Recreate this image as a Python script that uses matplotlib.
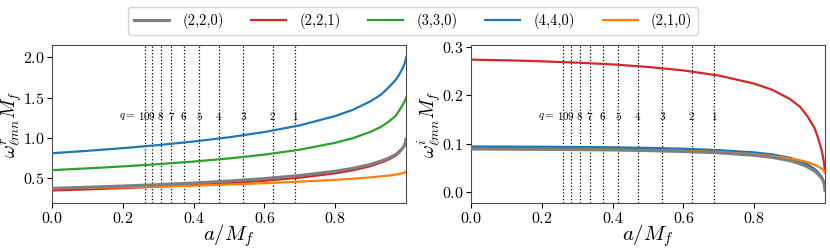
import numpy as np
import matplotlib
matplotlib.use("Agg")
from matplotlib import pyplot as plt
from matplotlib import transforms

plt.rcParams['font.family'] = 'serif'
plt.rcParams['font.serif'] = ['cmr10']
plt.rcParams['mathtext.fontset'] = 'cm'
plt.rcParams['axes.formatter.use_mathtext'] = True

#Spins (a/M_f)
spin = [0.0, 0.1, 0.2, 0.3, 0.4, 0.5, 0.6, 0.7, 0.8, 0.85, 0.9, 0.93, 0.95, 0.97,
        0.98, 0.99, 0.995, 0.998, 0.999, 0.9995, 0.9999]

#Real part
wr_220 = [0.3737, 0.3870, 0.4021, 0.4195, 0.4398, 0.4641, 0.4940, 0.5326, 0.5860, 0.6215, 0.6716,
          0.7130, 0.7462, 0.7900, 0.8254, 0.8709, 0.9050, 0.9370, 0.9530, 0.9660, 0.9850]
wr_221 = [0.3467, 0.3606, 0.3760, 0.3935, 0.4137, 0.4377, 0.4673, 0.5057, 0.5597, 0.5970, 0.6486,
          0.6950, 0.7289, 0.7760, 0.8146, 0.8635, 0.8990, 0.9320, 0.9490, 0.9630, 0.9840]
wr_330 = [0.5994, 0.6208, 0.6451, 0.6730, 0.7056, 0.7442, 0.7916, 0.8530, 0.9381, 0.9955, 1.0747,
          1.1380, 1.1981, 1.2690, 1.3336, 1.4052, 1.4450, 1.4720, 1.4830, 1.4900, 1.4970]
wr_440 = [0.8092, 0.8386, 0.8718, 0.9098, 0.9541, 1.0068, 1.0713, 1.1547, 1.2698, 1.3474, 1.4542,
          1.5380, 1.6217, 1.7150, 1.7780, 1.8600, 1.9100, 1.9500, 1.9700, 1.9800, 1.9950]
wr_210 = [0.3737, 0.3801, 0.3870, 0.3951, 0.4070, 0.4210, 0.4370, 0.4560, 0.4790, 0.4930, 0.5100,
          0.5220, 0.5310, 0.5430, 0.5510, 0.5610, 0.5680, 0.5740, 0.5770, 0.5780, 0.5790]

#Imaginary part
wi_220 = [0.0890, 0.0887, 0.0883, 0.0877, 0.0869, 0.0856, 0.0838, 0.0811, 0.0759, 0.0717, 0.0649,
          0.0584, 0.0521, 0.0435, 0.0370, 0.0293, 0.0222, 0.0148, 0.0110, 0.0080, 0.0030]
wi_221 = [0.2739, 0.2725, 0.2705, 0.2677, 0.2640, 0.2588, 0.2516, 0.2410, 0.2243, 0.2118, 0.1929,
          0.1760, 0.1572, 0.1330, 0.1126, 0.0878, 0.0700, 0.0550, 0.0480, 0.0440, 0.0400]
wi_330 = [0.0927, 0.0925, 0.0921, 0.0915, 0.0906, 0.0893, 0.0873, 0.0842, 0.0785, 0.0742, 0.0671,
          0.0604, 0.0540, 0.0452, 0.0386, 0.0301, 0.0230, 0.0150, 0.0110, 0.0080, 0.0030]
wi_440 = [0.0942, 0.0940, 0.0937, 0.0932, 0.0925, 0.0913, 0.0896, 0.0866, 0.0820, 0.0779, 0.0710,
          0.0641, 0.0575, 0.0480, 0.0410, 0.0320, 0.0245, 0.0160, 0.0115, 0.0085, 0.0035]
wi_210 = [0.0890, 0.0887, 0.0884, 0.0879, 0.0873, 0.0864, 0.0850, 0.0828, 0.0780, 0.0745, 0.0693,
          0.0655, 0.0620, 0.0565, 0.0530, 0.0485, 0.0455, 0.0430, 0.0420, 0.0410, 0.0400]

modes = ['(2,2,0)', '(2,2,1)', '(3,3,0)', '(4,4,0)', '(2,1,0)']
colors = ['tab:gray', 'tab:red', 'tab:green', 'tab:blue', 'tab:orange']
real_parts = [wr_220, wr_221, wr_330, wr_440, wr_210]
imag_parts = [wi_220, wi_221, wi_330, wi_440, wi_210]

#Remnant spins for mass ratios q
q_values = [1, 2, 3, 4, 5, 6, 7, 8, 9, 10]
q_spins = [0.6864, 0.6235, 0.5407, 0.4717, 0.4164, 0.3725, 0.3366, 0.3070, 0.2822, 0.2612]

fig = plt.figure(figsize=(8.3, 2.52), dpi=100)
ax1 = fig.add_axes([0.0627, 0.194, 0.4265, 0.627])
ax2 = fig.add_axes([0.5675, 0.194, 0.4265, 0.627])

for ax, parts in [(ax1, real_parts), (ax2, imag_parts)]:
  for i, vals in enumerate(parts):
    lw = 2.2 if i == 0 else 1.6
    z = 4 if i == 0 else 3
    ax.plot(spin, vals, color=colors[i], lw=lw, zorder=z, label=modes[i])
  trans = transforms.blended_transform_factory(ax.transData, ax.transAxes)
  for q, s in zip(q_values, q_spins):
    ax.axvline(s, color='k', ls=':', lw=0.9, zorder=1)
    ax.text(s, 0.55, f'${q}$', transform=trans, ha='center', va='center', fontsize=8)
  ax.annotate('$q=$', xy=(q_spins[-1], 0.55), xycoords=trans, xytext=(-6, 0),
              textcoords='offset points', ha='right', va='center', fontsize=8)
  ax.set_xlim(0, 1)
  ax.set_xticks([0.0, 0.2, 0.4, 0.6, 0.8])
  ax.tick_params(labelsize=11.5, pad=2)
  ax.set_xlabel('$a/M_f$', fontsize=15)
  ax.xaxis.set_label_coords(0.5, -0.12)
  ax.yaxis.set_label_coords(-0.08, 0.45)
  for sp in ax.spines.values():
    sp.set_color('0.3')

ax1.set_ylim(0.19, 2.15)
ax1.set_yticks([0.5, 1.0, 1.5, 2.0])
ax1.set_ylabel(r'$\omega^r_{\ell mn} M_f$', fontsize=14)
ax2.set_ylim(-0.023, 0.304)
ax2.set_yticks([0.0, 0.1, 0.2, 0.3])
ax2.set_ylabel(r'$\omega^i_{\ell mn} M_f$', fontsize=14)

fig.legend(*ax1.get_legend_handles_labels(), loc='upper center', bbox_to_anchor=(0.4976, 1.0),
           ncol=5, fontsize=10.5, handlelength=2.4, columnspacing=1.9, handletextpad=0.9)

plt.savefig('out.png', dpi=100)
